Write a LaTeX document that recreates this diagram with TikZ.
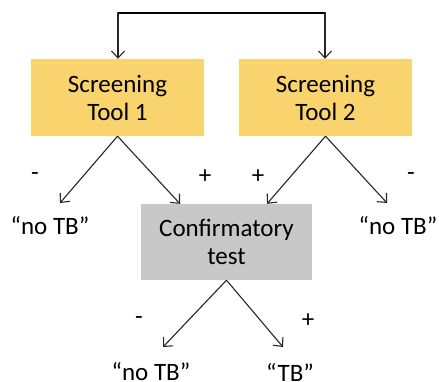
\documentclass[tikz,border=0pt]{standalone}
\usepackage{fontspec}
\setmainfont{Carlito}
\usetikzlibrary{arrows.meta}
\definecolor{screen}{HTML}{F9D46E}
\definecolor{confirm}{HTML}{C8C8C8}
\begin{document}
\begin{tikzpicture}[x=1pt,y=1pt,
  every node/.style={font=\fontsize{25}{30}\selectfont, inner sep=0pt},
  boxstyle/.style={minimum width=173pt, minimum height=77pt, align=center},
  arr/.style={-{Straight Barb[length=7pt,width=13pt]}, line width=1.1pt, draw=black!85},
  lbl/.style={anchor=center}]
\useasboundingbox (0,0) rectangle (439,381);
\node[boxstyle, fill=screen] (s1) at (117.5,283.5) {Screening\\[-2pt]Tool 1};
\node[boxstyle, fill=screen] (s2) at (325.5,283.5) {Screening\\[-2pt]Tool 2};
\node[boxstyle, fill=confirm, minimum width=171pt, minimum height=76pt] (c) at (226.5,139) {Confirmatory\\[-2pt]test};
\coordinate (t1) at (118,368);
\coordinate (t2) at (325,368);
\draw[line width=2pt, line cap=round] (t1) -- (t2);
\draw[arr] (t1) -- (s1.north -| t1);
\draw[arr] (t2) -- (s2.north -| t2);
\node (n1) at (50,155) {“no TB”};
\node (n2) at (398,155) {“no TB”};
\node (n3) at (151,9) {“no TB”};
\node (tb) at (290,9) {“TB”};
\coordinate (e1) at (60,178);
\coordinate (e2) at (387,178);
\coordinate (e3) at (163,34);
\coordinate (e4) at (283,34);
\draw[arr] (s1.south) -- (e1);
\draw[arr] (s1.south) -- ([xshift=-46.5pt]c.north);
\draw[arr] (s2.south) -- ([xshift=40.5pt]c.north);
\draw[arr] (s2.south) -- (e2);
\draw[arr] (c.south) -- (e3);
\draw[arr] (c.south) -- (e4);
\node[lbl] (m1) at (35,204) {-};
\node[lbl] (p1) at (205,204) {+};
\node[lbl] (p2) at (258,204) {+};
\node[lbl] (m2) at (411,204) {-};
\node[lbl] (m3) at (139,60) {-};
\node[lbl] (p3) at (308,60) {+};
\end{tikzpicture}
\end{document}
